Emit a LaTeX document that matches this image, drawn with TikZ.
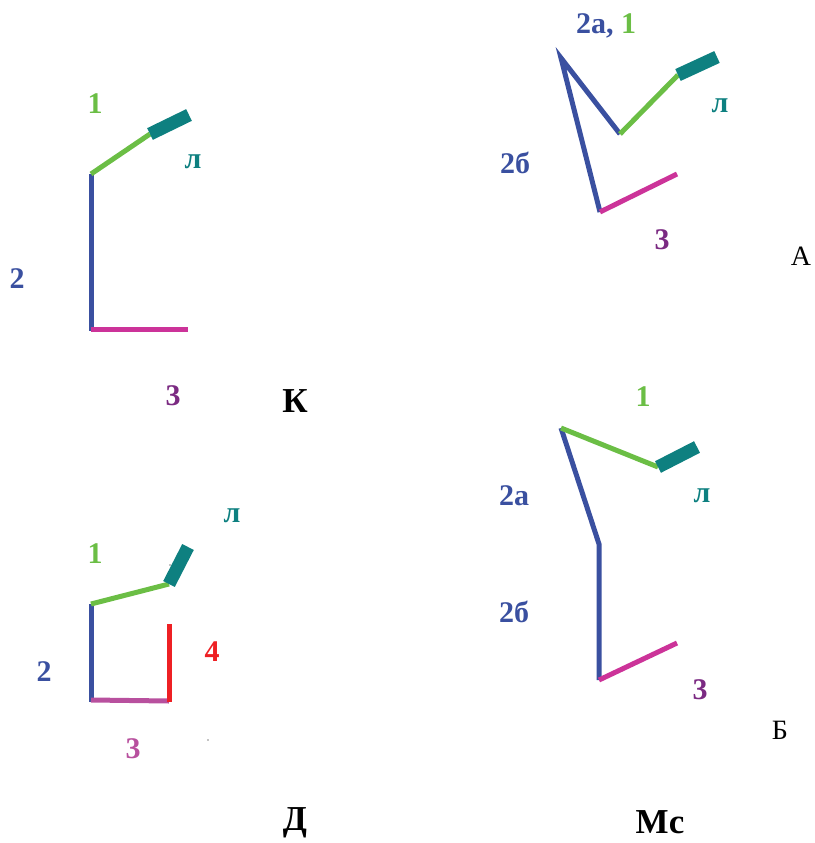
\documentclass[tikz,border=0pt]{standalone}
\usepackage{fontspec}
\setmainfont{Liberation Serif}
\usepackage{xcolor}
\definecolor{segblue}{HTML}{3A50A0}
\definecolor{seggreen}{HTML}{6BBE45}
\definecolor{segteal}{HTML}{0E8080}
\definecolor{segpink}{HTML}{CC3399}
\definecolor{segmauve}{HTML}{B8509E}
\definecolor{segred}{HTML}{EE2024}
\definecolor{numpurple}{HTML}{7B2A82}
\tikzset{
  every node/.style={inner sep=0pt,font=\fontsize{30}{34}\selectfont\bfseries},
  seg/.style={line width=5pt},
  trunk/.style={seg,draw=segblue},
  arm/.style={seg,draw=seggreen},
  hand/.style={line width=13pt,draw=segteal},
  leg/.style={seg,draw=segpink},
  legD/.style={seg,draw=segmauve},
  shin/.style={seg,draw=segred},
  tblue/.style={text=segblue},
  tgreen/.style={text=seggreen},
  tteal/.style={text=segteal},
  tpurple/.style={text=numpurple},
  tmauve/.style={text=segmauve},
  tred/.style={text=segred},
  title/.style={font=\fontsize{35}{38}\selectfont\bfseries,text=black},
  letter/.style={font=\fontsize{28}{32}\selectfont,text=black},
}

\begin{document}
\begin{tikzpicture}[x=1pt,y=-1pt]
\useasboundingbox (0,0) rectangle (814,843);

% panel K
\coordinate (k-sh) at (91,174);
\coordinate (k-wr) at (150,134);
\coordinate (k-fi) at (189,115);
\coordinate (k-hip) at (91,329);
\coordinate (k-ft) at (188,329);
\draw[trunk] (k-sh) -- (91,331);
\draw[arm] (k-sh) -- (k-wr);
\draw[hand] (k-wr) -- (k-fi);
\draw[leg] (k-hip) -- (k-ft);
\node[tgreen] (k1) at (95,104) {1};
\node[tteal] (kl) at (193,162) {л};
\node[tblue] (k2) at (17,279) {2};
\node[tpurple] (k3) at (173,396) {3};
\node[title] (kname) at (295,401) {К};

% panel A
\coordinate (a-top) at (561,58);
\coordinate (a-el) at (620,134);
\coordinate (a-wr) at (678,75);
\coordinate (a-fi) at (717,57);
\coordinate (a-hip) at (600,212);
\coordinate (a-ft) at (677,174);
\draw[trunk] (a-el) -- (a-top) -- (a-hip);
\draw[arm] (a-el) -- (a-wr);
\draw[hand] (a-wr) -- (a-fi);
\draw[leg] (a-hip) -- (a-ft);
\node[tblue] (a2a) at (606,26) {2а, \textcolor{seggreen}{1}};
\node[tteal] (al) at (720,106) {л};
\node[tblue] (a2b) at (515,163) {2б};
\node[tpurple] (a3) at (662,240) {3};
\node[letter] (aname) at (801,256) {А};

% panel D
\coordinate (d-sh) at (91,604);
\coordinate (d-wr) at (169,584);
\coordinate (d-fi) at (188,547);
\coordinate (d-hip) at (91,700);
\coordinate (d-kn) at (169,701);
\coordinate (d-tp) at (169,624);
\draw[trunk] (d-sh) -- (91,702);
\draw[arm] (d-sh) -- (d-wr);
\draw[hand] (d-wr) -- (d-fi);
\draw[legD] (d-hip) -- (d-kn);
\draw[shin] (d-tp) -- (169,702);
\fill (170,565) circle (0.6);
\fill (208,740) circle (0.6);
\node[tteal] (dl) at (232,516) {л};
\node[tgreen] (d1) at (95,554) {1};
\node[tred] (d4) at (212,652) {4};
\node[tblue] (d2) at (44,672) {2};
\node[tmauve] (d3) at (133,749) {3};
\node[title] (dname) at (295,823) {Д};

% panel Mc
\coordinate (m-top) at (561,428);
\coordinate (m-mid) at (599,544);
\coordinate (m-hip) at (599,680);
\coordinate (m-wr) at (658,467);
\coordinate (m-fi) at (697,447);
\coordinate (m-ft) at (677,643);
\draw[trunk] (m-top) -- (m-mid) -- (m-hip);
\draw[arm] (m-top) -- (m-wr);
\draw[hand] (m-wr) -- (m-fi);
\draw[leg] (m-hip) -- (m-ft);
\node[tgreen] (m1) at (643,397) {1};
\node[tblue] (m2a) at (514,496) {2а};
\node[tteal] (ml) at (702,496) {л};
\node[tblue] (m2b) at (514,612) {2б};
\node[tpurple] (m3) at (700,690) {3};
\node[letter] (mname) at (780,730) {Б};
\node[title] (mcname) at (660,822) {Мс};

\end{tikzpicture}
\end{document}
